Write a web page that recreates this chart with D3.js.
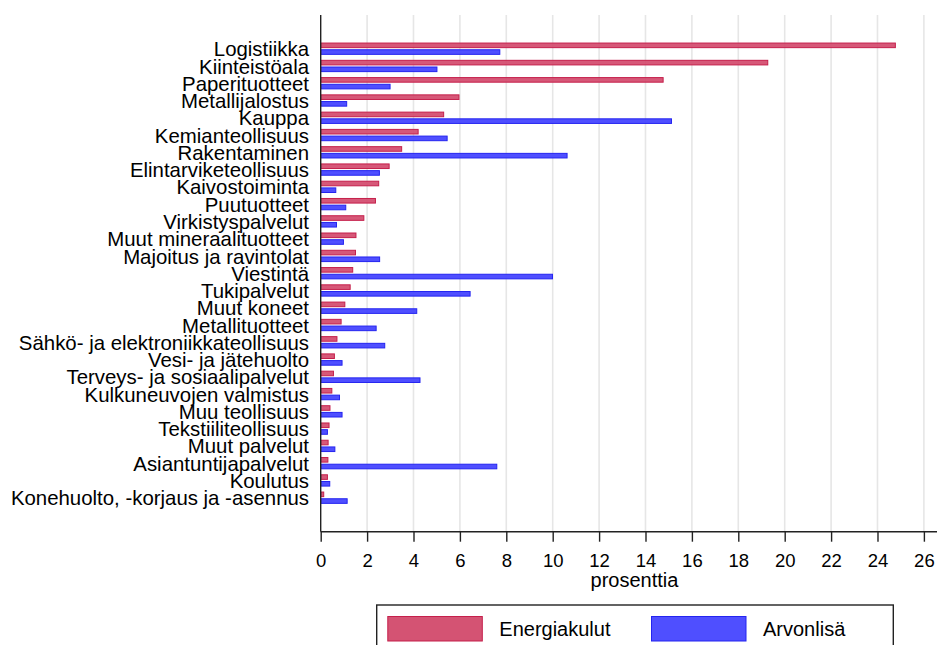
<!DOCTYPE html>
<html>
<head>
<meta charset="utf-8">
<script src="https://cdn.jsdelivr.net/npm/d3@7/dist/d3.min.js"></script>
<style>
  html, body { margin: 0; padding: 0; background: #fff; }
  svg { display: block; font-family: "Liberation Sans", Arial, sans-serif; }
</style>
</head>
<body>
<svg id="chart" width="937" height="645"></svg>
<script>
const categories = [
  "Logistiikka", "Kiinteistöala", "Paperituotteet", "Metallijalostus", "Kauppa",
  "Kemianteollisuus", "Rakentaminen", "Elintarviketeollisuus", "Kaivostoiminta",
  "Puutuotteet", "Virkistyspalvelut", "Muut mineraalituotteet", "Majoitus ja ravintolat",
  "Viestintä", "Tukipalvelut", "Muut koneet", "Metallituotteet",
  "Sähkö- ja elektroniikkateollisuus", "Vesi- ja jätehuolto", "Terveys- ja sosiaalipalvelut",
  "Kulkuneuvojen valmistus", "Muu teollisuus", "Tekstiiliteollisuus", "Muut palvelut",
  "Asiantuntijapalvelut", "Koulutus", "Konehuolto, -korjaus ja -asennus"
];
const energiakulut = [24.77, 19.27, 14.76, 5.96, 5.30, 4.20, 3.49, 2.95, 2.50, 2.36, 1.86, 1.52, 1.50, 1.38, 1.27, 1.04, 0.88, 0.70, 0.59, 0.55, 0.48, 0.40, 0.36, 0.32, 0.31, 0.29, 0.13];
const arvonlisa = [7.72, 5.01, 2.99, 1.12, 15.12, 5.45, 10.62, 2.53, 0.65, 1.08, 0.68, 0.98, 2.54, 9.99, 6.44, 4.14, 2.39, 2.76, 0.92, 4.28, 0.81, 0.92, 0.29, 0.61, 7.59, 0.39, 1.14];
const seriesNames = ["Energiakulut", "Arvonlisä"];
const xTicks = [0, 2, 4, 6, 8, 10, 12, 14, 16, 18, 20, 22, 24, 26];
const xTitle = "prosenttia";

(function () {
const svg = d3.select("#chart");
const pLeft = 320.7, pRight = 937, pTop = 15, pBottom = 531.7;

const x = d3.scaleLinear().domain([0, 26.565]).range([pLeft, pRight]);
const y = d3.scalePoint().domain(categories).range([pTop, pBottom]).padding(1.96);

const colors = {
  fill: ["#d24a6c", "#4646ff"],
  stroke: ["#c51f4b", "#2424f0"]
};

// gridlines
svg.append("g").selectAll("line")
  .data(xTicks.filter(t => t > 0))
  .join("line")
  .attr("x1", d => x(d)).attr("x2", d => x(d))
  .attr("y1", pTop).attr("y2", pBottom)
  .attr("stroke", "#e6e6e6").attr("stroke-width", 1.6);

// bars
const barH = 4.6;
const gBars = svg.append("g");
gBars.selectAll("rect.e")
  .data(categories)
  .join("rect").attr("class", "e")
  .attr("x", x(0))
  .attr("y", d => y(d) - 5.8)
  .attr("width", (d, i) => Math.max(0, x(energiakulut[i]) - x(0)))
  .attr("height", barH)
  .attr("fill", colors.fill[0]).attr("fill-opacity", 0.92)
  .attr("stroke", colors.stroke[0]).attr("stroke-width", 1);
gBars.selectAll("rect.a")
  .data(categories)
  .join("rect").attr("class", "a")
  .attr("x", x(0))
  .attr("y", d => y(d) + 0.9)
  .attr("width", (d, i) => Math.max(0, x(arvonlisa[i]) - x(0)))
  .attr("height", barH)
  .attr("fill", colors.fill[1]).attr("fill-opacity", 0.95)
  .attr("stroke", colors.stroke[1]).attr("stroke-width", 1);

// y axis
const yAxis = d3.axisLeft(y).tickSize(0).tickPadding(11.7);
const gy = svg.append("g").attr("transform", `translate(${pLeft},0)`).call(yAxis);
gy.select(".domain").attr("d", `M0,${pTop}V${pBottom}`).attr("stroke", "#222").attr("stroke-width", 1.4);
gy.selectAll(".tick text")
  .attr("font-size", "20.4px").attr("fill", "#000")
  .attr("font-family", "'Liberation Sans', Arial, sans-serif")
  .attr("dy", "0.34em");

// x axis
const xAxis = d3.axisBottom(x).tickValues(xTicks).tickSize(10).tickPadding(12).tickFormat(d3.format("d"));
const gx = svg.append("g").attr("transform", `translate(0,${pBottom})`).call(xAxis);
gx.select(".domain").attr("d", `M${pLeft},0H${pRight}`).attr("stroke", "#222").attr("stroke-width", 1.4);
gx.selectAll(".tick line").attr("stroke", "#222").attr("stroke-width", 1.4);
gx.selectAll(".tick text")
  .attr("font-size", "18.5px").attr("fill", "#000")
  .attr("font-family", "'Liberation Sans', Arial, sans-serif");

svg.append("text")
  .attr("x", 634.5).attr("y", 587)
  .attr("text-anchor", "middle")
  .attr("font-size", "20px")
  .text(xTitle);

// legend
const lg = svg.append("g");
lg.append("rect")
  .attr("x", 376.7).attr("y", 605).attr("width", 516.6).attr("height", 70)
  .attr("fill", "#fff").attr("stroke", "#222").attr("stroke-width", 1.4);
const legX = [387.3, 651];
seriesNames.forEach((name, i) => {
  lg.append("rect")
    .attr("x", legX[i] + 0.5).attr("y", 616.5).attr("width", 94.5).attr("height", 24.5)
    .attr("fill", colors.fill[i]).attr("fill-opacity", 0.95)
    .attr("stroke", colors.stroke[i]).attr("stroke-width", 1);
  lg.append("text")
    .attr("x", legX[i] + 112).attr("y", 636)
    .attr("font-size", "20px")
    .text(name);
});
})();
</script>
</body>
</html>
